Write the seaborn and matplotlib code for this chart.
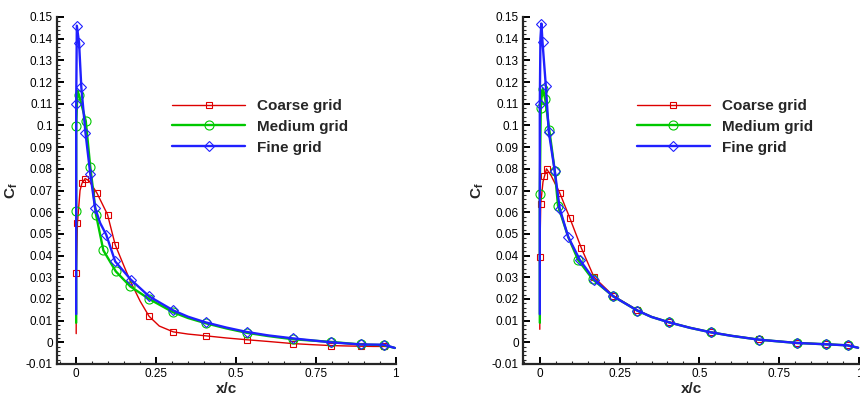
import numpy as np
import pandas as pd
import matplotlib
matplotlib.use("Agg")
import matplotlib.pyplot as plt
import seaborn as sns
from matplotlib.ticker import MultipleLocator, FuncFormatter

sns.set_theme(style="ticks")
plt.rcParams['font.family'] = ['Liberation Sans', 'DejaVu Sans']
plt.rcParams['mathtext.fontset'] = 'custom'
plt.rcParams['mathtext.bf'] = 'Liberation Sans:bold'
plt.rcParams['mathtext.rm'] = 'Liberation Sans'

labels = ["Coarse grid", "Medium grid", "Fine grid"]

# ---- left panel ----
left_coarse_x = [0, 0, 0.004, 0.012, 0.018, 0.028, 0.04, 0.065, 0.098, 0.122, 0.15, 0.17, 0.2, 0.228,
                 0.26, 0.304, 0.35, 0.405, 0.47, 0.533, 0.6, 0.679, 0.74, 0.797, 0.85, 0.891, 0.93,
                 0.9625, 0.985, 0.997]
left_coarse_y = [0.004, 0.032, 0.055, 0.070, 0.0733, 0.0755, 0.0745, 0.0688, 0.0589, 0.045, 0.035, 0.028,
                 0.019, 0.012, 0.0075, 0.0048, 0.0038, 0.003, 0.002, 0.0012, 0.0004, -0.0006, -0.0011,
                 -0.0015, -0.0017, -0.0018, -0.0019, -0.0019, -0.002, -0.0026]
left_coarse_marks = [1, 2, 4, 5, 7, 8, 9, 13, 15, 17, 19, 21, 23, 25, 27]

left_medium_x = [0, 0, 0, 0.004, 0.009, 0.030, 0.044, 0.062, 0.085, 0.124, 0.169, 0.228, 0.304, 0.35,
                 0.405, 0.47, 0.533, 0.6, 0.679, 0.797, 0.891, 0.9625, 0.997]
left_medium_y = [0.009, 0.0604, 0.0999, 0.116, 0.114, 0.102, 0.081, 0.0589, 0.0424, 0.0327, 0.0258,
                 0.020, 0.0138, 0.0112, 0.0088, 0.0064, 0.0044, 0.0029, 0.0014, 0.0002, -0.001,
                 -0.0013, -0.0026]
left_medium_marks = [1, 2, 4, 5, 6, 7, 8, 9, 10, 11, 12, 14, 16, 18, 19, 20, 21]

left_fine_x = [0, 0, 0.002, 0.009, 0.016, 0.029, 0.044, 0.059, 0.075, 0.094, 0.122, 0.171, 0.228, 0.304,
               0.35, 0.405, 0.47, 0.533, 0.6, 0.679, 0.797, 0.891, 0.9625, 0.997]
left_fine_y = [0.013, 0.110, 0.146, 0.138, 0.1177, 0.0966, 0.0777, 0.062, 0.055, 0.0496, 0.0373, 0.0289,
               0.0212, 0.0147, 0.0118, 0.0092, 0.0068, 0.0048, 0.0032, 0.0018, 0.0, -0.001, -0.0011,
               -0.0026]
left_fine_marks = [1, 2, 3, 4, 5, 6, 7, 9, 10, 11, 12, 13, 15, 17, 19, 20, 21, 22]

# ---- right panel ----
right_coarse_x = [0, 0, 0.003, 0.010, 0.0145, 0.021, 0.035, 0.0627, 0.094, 0.13, 0.17, 0.23, 0.306, 0.35,
                  0.405, 0.47, 0.536, 0.6, 0.687, 0.805, 0.895, 0.964, 0.997]
right_coarse_y = [0.006, 0.0393, 0.064, 0.074, 0.0765, 0.080, 0.077, 0.0688, 0.0573, 0.0435, 0.030,
                  0.0215, 0.0148, 0.0118, 0.0093, 0.0068, 0.0047, 0.0031, 0.0013, -0.0002, -0.0008,
                  -0.0013, -0.0025]
right_coarse_marks = [1, 2, 4, 5, 7, 8, 9, 10, 11, 12, 14, 16, 18, 19, 20, 21]

right_medium_x = [0, 0, 0.003, 0.007, 0.010, 0.017, 0.030, 0.047, 0.057, 0.089, 0.12, 0.166, 0.23, 0.306,
                  0.35, 0.405, 0.47, 0.536, 0.6, 0.687, 0.805, 0.895, 0.964, 0.997]
right_medium_y = [0.009, 0.0685, 0.108, 0.116, 0.117, 0.112, 0.0977, 0.079, 0.063, 0.0486, 0.038, 0.029,
                  0.0212, 0.0146, 0.0117, 0.0092, 0.0067, 0.0046, 0.003, 0.0012, -0.0003, -0.0009,
                  -0.0014, -0.0025]
right_medium_marks = [1, 2, 4, 5, 6, 7, 8, 10, 11, 12, 13, 15, 17, 19, 20, 21, 22]

right_fine_x = [0, 0, 0.002, 0.005, 0.0085, 0.019, 0.028, 0.047, 0.0625, 0.089, 0.125, 0.170, 0.23, 0.306,
                0.35, 0.405, 0.47, 0.536, 0.6, 0.687, 0.805, 0.895, 0.964, 0.997]
right_fine_y = [0.013, 0.110, 0.140, 0.147, 0.1384, 0.118, 0.0972, 0.0788, 0.0616, 0.0486, 0.0381, 0.0289,
                0.0212, 0.0146, 0.0117, 0.0092, 0.0067, 0.0046, 0.003, 0.0012, -0.0003, -0.0009,
                -0.0014, -0.0025]
right_fine_marks = [1, 3, 4, 5, 6, 7, 8, 9, 10, 11, 12, 13, 15, 17, 19, 20, 21, 22]

panels = [
    [(left_coarse_x, left_coarse_y, left_coarse_marks),
     (left_medium_x, left_medium_y, left_medium_marks),
     (left_fine_x, left_fine_y, left_fine_marks)],
    [(right_coarse_x, right_coarse_y, right_coarse_marks),
     (right_medium_x, right_medium_y, right_medium_marks),
     (right_fine_x, right_fine_y, right_fine_marks)],
]

colors = ['#dd0000', '#00c800', '#2020ff']
markers = ['s', 'o', 'D']
msizes = [5, 6.5, 5]
widths = [1.0, 1.7, 1.7]

fig = plt.figure(figsize=(8.6, 4.0), dpi=100)
axes = [fig.add_axes([0.0663, 0.09, 0.395, 0.8675]),
        fig.add_axes([0.608, 0.09, 0.392, 0.8675])]
xlims = [(-0.06, 1.003), (-0.053, 1.003)]

fmt = FuncFormatter(lambda v, p: f"{round(v, 4):g}")

for ax, series, xl in zip(axes, panels, xlims):
    for (x, y, marks), c, m, ms, lw, lab in zip(series, colors, markers, msizes, widths, labels):
        df = pd.DataFrame({"x": x, "y": y})
        sns.lineplot(data=df, x="x", y="y", ax=ax, sort=False, estimator=None,
                     color=c, lw=lw, marker=m, markersize=ms, mfc='none', mec=c,
                     mew=0.8, markevery=marks, label=lab)
    ax.set_xlim(*xl)
    ax.set_ylim(-0.01, 0.15)
    ax.xaxis.set_major_locator(MultipleLocator(0.25))
    ax.xaxis.set_minor_locator(MultipleLocator(0.05))
    ax.yaxis.set_major_locator(MultipleLocator(0.01))
    ax.yaxis.set_minor_locator(MultipleLocator(0.002))
    ax.xaxis.set_major_formatter(fmt)
    ax.yaxis.set_major_formatter(fmt)
    ax.spines[['top', 'right']].set_visible(False)
    ax.spines[['left', 'bottom']].set_linewidth(1.6)
    ax.spines['bottom'].set_bounds(xl[0], 1.0)
    ax.tick_params(which='major', direction='in', length=5, width=1.4, labelsize=8.5,
                   pad=3, colors='black')
    ax.tick_params(which='minor', direction='in', length=2.5, width=0.8)
    ax.set_xlabel("x/c", fontsize=11, fontweight='bold', labelpad=1)
    ax.set_ylabel(r"$\mathbf{C_f}$", fontsize=11, labelpad=4)
    ax.legend(loc='upper left', bbox_to_anchor=(0.338, 0.764), frameon=False,
              borderaxespad=0, borderpad=0, handlelength=4.8, handletextpad=0.8,
              labelspacing=0.45, prop={'size': 11, 'weight': 'bold'})
    ax.set_facecolor('white')

fig.savefig("out.png", dpi=100, facecolor='white')
